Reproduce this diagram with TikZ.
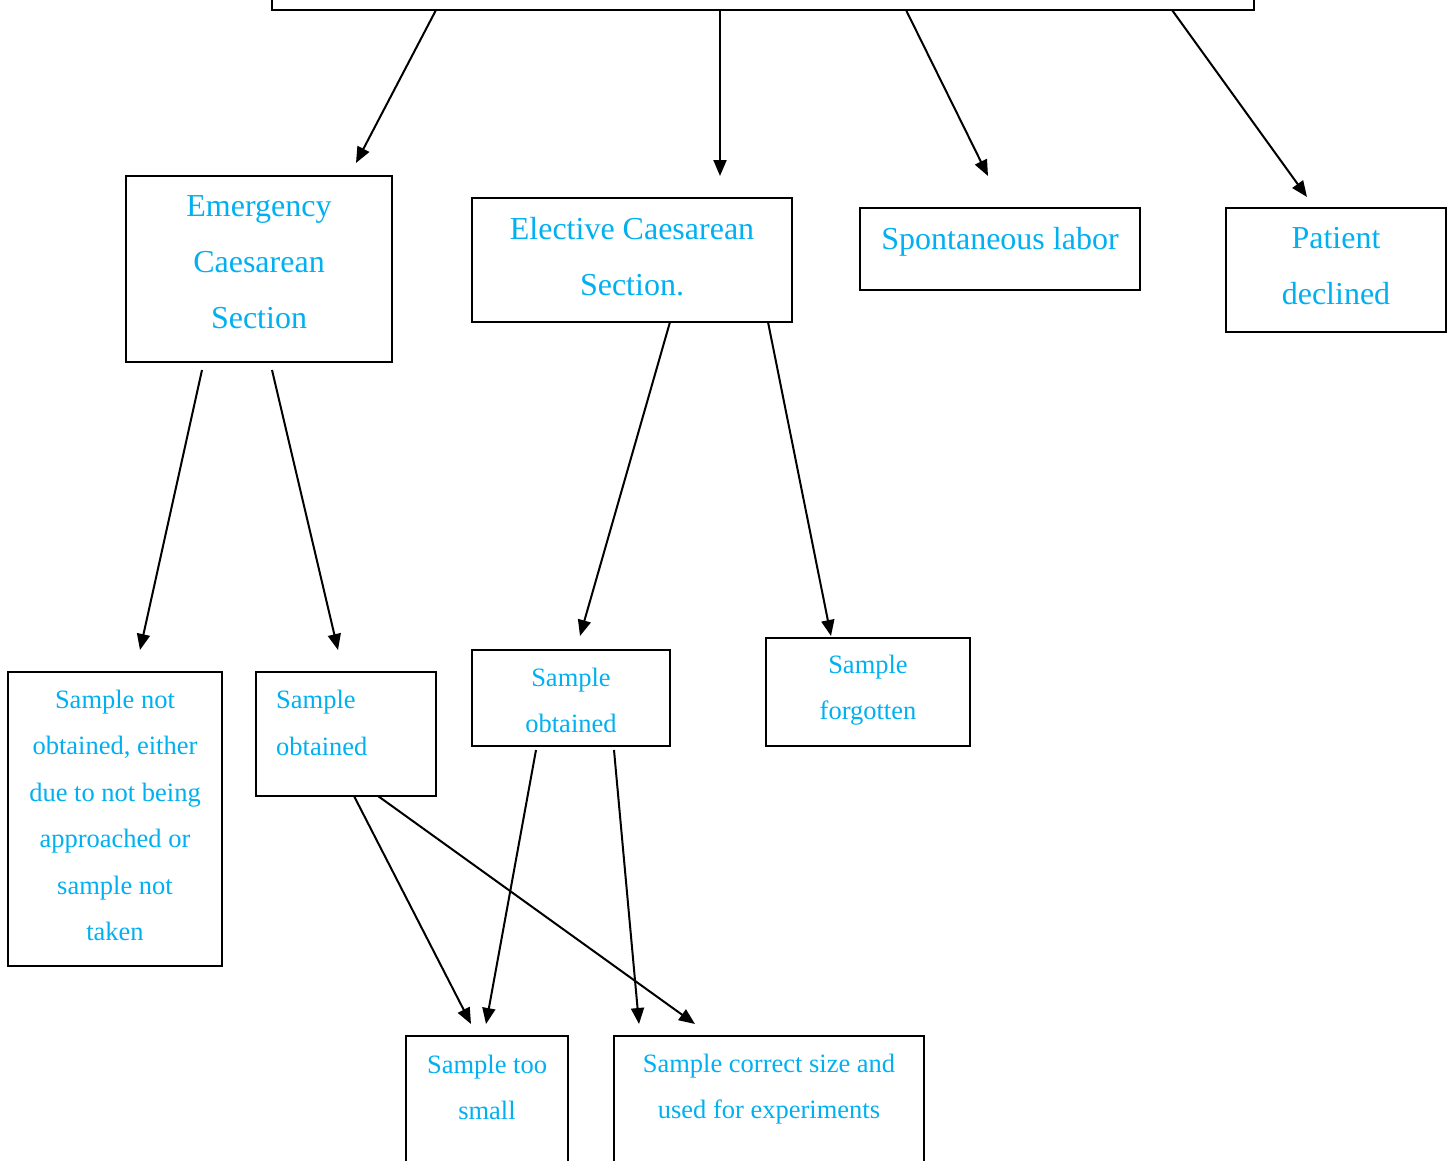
\documentclass[tikz,border=0pt]{standalone}
\usepackage{fontspec}
\setmainfont{Liberation Serif}
\usetikzlibrary{arrows.meta}
\definecolor{txtblue}{HTML}{00B0F0}
\tikzset{
  box/.style={draw=black, line width=2pt, minimum width=#1, inner sep=0pt},
  big/.style={text=txtblue, font=\fontsize{32}{56}\selectfont, align=center, inner sep=0pt},
  small/.style={text=txtblue, font=\fontsize{26.5}{46.5}\selectfont, align=center, inner sep=0pt},
  arr/.style={line width=2pt, -{Triangle[length=16pt,width=13pt]}}
}
\begin{document}
\begin{tikzpicture}[x=1pt,y=-1pt]
\useasboundingbox (0,0) rectangle (1454,1160);
% boxes
\draw[line width=2pt] (272,-20) rectangle (1254,10);
\coordinate (top) at (763,10);
\node[box=266pt, minimum height=186pt] (emerg) at (259,269) {};
\node[box=320pt, minimum height=124pt] (elect) at (632,260) {};
\node[box=280pt, minimum height=82pt] (spont) at (1000,249) {};
\node[box=220pt, minimum height=124pt] (decl) at (1336,270) {};
\node[box=214pt, minimum height=294pt] (notob) at (115,819) {};
\node[box=180pt, minimum height=124pt] (obtl) at (346,734) {};
\node[box=198pt, minimum height=96pt] (obtm) at (571,698) {};
\node[box=204pt, minimum height=108pt] (forg) at (868,692) {};
\draw[line width=2pt] (406,1180) -- (406,1036) -- (568,1036) -- (568,1180);
\draw[line width=2pt] (614,1180) -- (614,1036) -- (924,1036) -- (924,1180);
\coordinate (small) at (487,1036);
\coordinate (correct) at (769,1036);
% texts
\node[big] (temerg) at (259,262) {Emergency\\Caesarean\\Section};
\node[big] (telect) at (632,256.5) {Elective Caesarean\\Section.};
\node[big] (tspont) at (1000,242) {Spontaneous labor};
\node[big] (tdecl) at (1336,266.5) {Patient\\declined};
\node[small] (tnotob) at (115,815.5) {Sample not\\obtained, either\\due to not being\\approached or\\sample not\\taken};
\node[small, align=left, anchor=west] (tobtl) at (276,723) {Sample\\obtained};
\node[small] (tobtm) at (571,700.5) {Sample\\obtained};
\node[small] (tforg) at (868,690) {Sample\\forgotten};
\node[small] (tsmall) at (487,1087.5) {Sample too\\small};
\node[small] (tcorrect) at (769,1089) {Sample correct size and\\used for experiments};
% arrow end points
\coordinate (a1s) at (436,10);  \coordinate (a1e) at (356,163);
\coordinate (a2s) at (720,10);  \coordinate (a2e) at (720,176);
\coordinate (a3s) at (906,10);  \coordinate (a3e) at (988,176);
\coordinate (a4s) at (1172,10); \coordinate (a4e) at (1307,197);
\coordinate (b1s) at (202,370); \coordinate (b1e) at (140,650);
\coordinate (b2s) at (272,370); \coordinate (b2e) at (338,650);
\coordinate (c1s) at (670,322); \coordinate (c1e) at (580,636);
\coordinate (c2s) at (768,322); \coordinate (c2e) at (831,636);
\coordinate (d1s) at (354,796); \coordinate (d1e) at (471,1024);
\coordinate (d2s) at (378,796); \coordinate (d2e) at (695,1024);
\coordinate (e1s) at (536,750); \coordinate (e1e) at (486,1024);
\coordinate (e2s) at (614,750); \coordinate (e2e) at (639,1024);
\draw[arr] (a1s) -- (a1e);
\draw[arr] (a2s) -- (a2e);
\draw[arr] (a3s) -- (a3e);
\draw[arr] (a4s) -- (a4e);
\draw[arr] (b1s) -- (b1e);
\draw[arr] (b2s) -- (b2e);
\draw[arr] (c1s) -- (c1e);
\draw[arr] (c2s) -- (c2e);
\draw[arr] (d1s) -- (d1e);
\draw[arr] (d2s) -- (d2e);
\draw[arr] (e1s) -- (e1e);
\draw[arr] (e2s) -- (e2e);
\end{tikzpicture}
\end{document}
